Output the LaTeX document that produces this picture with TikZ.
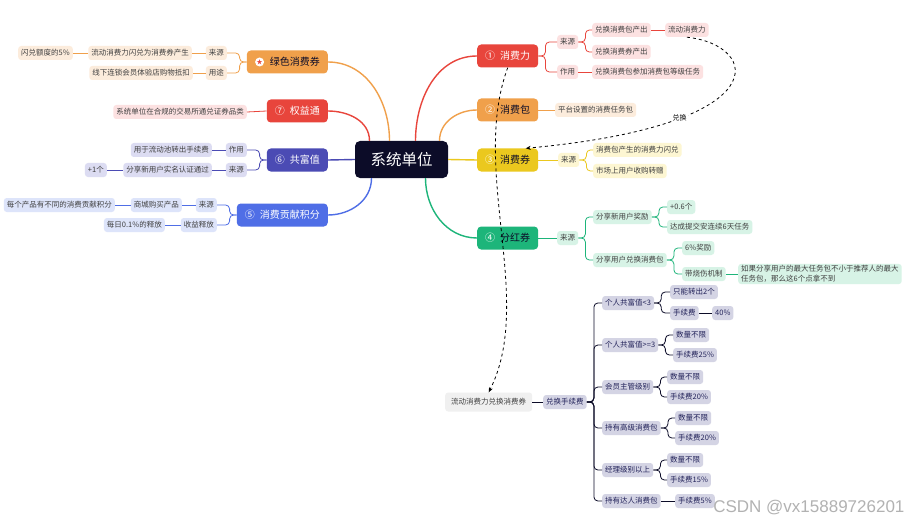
\documentclass[tikz,border=0pt]{standalone}
\usepackage{fontspec}
\setmainfont{Noto Sans CJK SC}
\newfontfamily\markfont{Liberation Sans}
\usepackage{tikz}
\usetikzlibrary{calc,arrows.meta}
\usepackage{xcolor}
\definecolor{ink}{RGB}{12,12,40}
\definecolor{navy}{RGB}{35,35,90}
\definecolor{redtopic}{RGB}{232,69,60}
\definecolor{redsoft}{RGB}{252,225,225}
\definecolor{orangetopic}{RGB}{240,160,75}
\definecolor{orangesoft}{RGB}{252,236,220}
\definecolor{yellowtopic}{RGB}{235,200,30}
\definecolor{yellowsoft}{RGB}{253,246,210}
\definecolor{greentopic}{RGB}{29,181,122}
\definecolor{greensoft}{RGB}{215,243,230}
\definecolor{indigotopic}{RGB}{75,75,180}
\definecolor{indigosoft}{RGB}{220,220,242}
\definecolor{bluetopic}{RGB}{79,110,230}
\definecolor{bluesoft}{RGB}{221,228,250}
\definecolor{greysoft}{RGB}{212,212,228}

\tikzset{
  topic/.style={rounded corners=4pt, inner xsep=8pt, inner ysep=0pt,
    minimum height=23pt, text=white, font=\fontsize{10}{12}\selectfont},
  leaf/.style={rounded corners=3pt, inner xsep=3pt, inner ysep=1.5pt,
    minimum height=14pt, text=black!75, font=\fontsize{7.5}{9}\selectfont},
  redleaf/.style={leaf, fill=redsoft},
  orangeleaf/.style={leaf, fill=orangesoft},
  yellowleaf/.style={leaf, fill=yellowsoft},
  greenleaf/.style={leaf, fill=greensoft},
  indigoleaf/.style={leaf, fill=indigosoft},
  blueleaf/.style={leaf, fill=bluesoft},
  greyleaf/.style={leaf, fill=greysoft, text=navy},
  trunk/.style={line width=1.4pt},
  twig/.style={line width=0.8pt, rounded corners=4pt},
  hint/.style={dashed, line width=0.8pt, -{Stealth[length=5pt,width=4pt]}},
}
\newcommand\numgap{\hspace{5pt}}

\begin{document}
\begin{tikzpicture}[x=1pt,y=-1pt]
\fill[white] (0,0) rectangle (913,524);
\useasboundingbox (0,0) rectangle (913,524);

% centre
\node[fill=ink, rounded corners=5pt, text=white, minimum width=93pt, minimum height=37pt,
      font=\fontsize{15.5}{18}\selectfont] (sys) at (401.5,159.5) {系统单位};

% right topics
\node[topic, fill=redtopic, anchor=west] (c1) at (477,56) {①\numgap 消费力};
\node[topic, fill=orangetopic, text=ink, anchor=west] (c2) at (477,110) {\textcolor{white}{②}\numgap 消费包};
\node[topic, fill=yellowtopic, text=ink, anchor=west] (c3) at (477,160) {\textcolor{white}{③}\numgap 消费券};
\node[topic, fill=greentopic, text=ink, anchor=west] (c4) at (477,238) {\textcolor{white}{④}\numgap 分红券};

% left topics
\node[topic, fill=orangetopic, text=ink, anchor=east] (g) at (328,62) {\phantom{①}\numgap 绿色消费券};
\node[circle, fill=white, inner sep=0pt, minimum size=9pt, text=redtopic,
      font=\fontsize{6}{6}\selectfont] (gicon) at ($(g.west)+(13,0)$) {★};
\node[topic, fill=redtopic, anchor=east] (q) at (328,111) {⑦\numgap 权益通};
\node[topic, fill=indigotopic, anchor=east] (f) at (328,160) {⑥\numgap 共富值};
\node[topic, fill=bluetopic, anchor=east] (p) at (328,215) {⑤\numgap 消费贡献积分};

% main branches
\draw[trunk, redtopic] ($(sys.north)+(14,0)$) to[out=90,in=180] (c1.west);
\draw[trunk, orangetopic] ($(sys.north)+(38,0)$) to[out=90,in=180] (c2.west);
\draw[trunk, yellowtopic] (sys.east) -- (c3.west);
\draw[trunk, greentopic] ($(sys.south)+(24,0)$) to[out=-90,in=180] (c4.west);
\draw[trunk, orangetopic] ($(sys.north)+(-12,0)$) to[out=90,in=0] (g.east);
\draw[trunk, redtopic] ($(sys.north)+(-32,0)$) to[out=90,in=0] (q.east);
\draw[trunk, indigotopic] (sys.west) -- (f.east);
\draw[trunk, bluetopic] ($(sys.south)+(-30,0)$) to[out=-90,in=0] (p.east);

% 消费力
\node[redleaf, anchor=west] (c1a) at (557,42) {来源};
\node[redleaf, anchor=west] (c1aa) at (592,30) {兑换消费包产出};
\node[redleaf, anchor=west] (c1aaa) at (665,30) {流动消费力};
\node[redleaf, anchor=west] (c1ab) at (592,52) {兑换消费券产出};
\node[redleaf, anchor=west] (c1b) at (557,72) {作用};
\node[redleaf, anchor=west] (c1ba) at (592,72) {兑换消费包参加消费包等级任务};
\foreach \a/\b in {c1/c1a, c1/c1b, c1a/c1aa, c1a/c1ab}
  \draw[twig, redtopic] (\a.east) -- ++(7,0) |- (\b.west);
\foreach \a/\b in {c1aa/c1aaa, c1b/c1ba}
  \draw[twig, redtopic] (\a.east) -- (\b.west);

% 消费包
\node[orangeleaf, anchor=west] (c2a) at (555,110) {平台设置的消费任务包};
\draw[twig, orangetopic] (c2.east) -- (c2a.west);

% 消费券
\node[yellowleaf, anchor=west] (c3a) at (558,160) {来源};
\node[yellowleaf, anchor=west] (c3aa) at (593,150) {消费包产生的消费力闪兑};
\node[yellowleaf, anchor=west] (c3ab) at (593,171) {市场上用户收购转赠};
\draw[twig, yellowtopic] (c3.east) -- (c3a.west);
\foreach \a/\b in {c3a/c3aa, c3a/c3ab}
  \draw[twig, yellowtopic] (\a.east) -- ++(7,0) |- (\b.west);

% 分红券
\node[greenleaf, anchor=west] (c4a) at (557,238) {来源};
\node[greenleaf, anchor=west] (c4aa) at (593,217) {分享新用户奖励};
\node[greenleaf, anchor=west] (c4aaa) at (667,207) {+0.6个};
\node[greenleaf, anchor=west] (c4aab) at (667,227) {达成提交安连续6天任务};
\node[greenleaf, anchor=west] (c4ab) at (593,260) {分享用户兑换消费包};
\node[greenleaf, anchor=west] (c4aba) at (682,248) {6\%奖励};
\node[greenleaf, anchor=west] (c4abb) at (682,274) {带烧伤机制};
\node[greenleaf, anchor=west, align=left, font=\fontsize{7.5}{10}\selectfont] (c4abba) at (738,274)
  {如果分享用户的最大任务包不小于推荐人的最大\\任务包，那么这6个点拿不到};
\draw[twig, greentopic] (c4.east) -- (c4a.west);
\foreach \a/\b in {c4a/c4aa, c4a/c4ab, c4aa/c4aaa, c4aa/c4aab, c4ab/c4aba, c4ab/c4abb}
  \draw[twig, greentopic] (\a.east) -- ++(7,0) |- (\b.west);
\draw[twig, greentopic] (c4abb.east) -- (c4abba.west);

% 绿色消费券
\node[orangeleaf, anchor=east] (ga) at (227,53) {来源};
\node[orangeleaf, anchor=east] (gaa) at (192,53) {流动消费力闪兑为消费券产生};
\node[orangeleaf, anchor=east] (gaaa) at (73,53) {闪兑额度的5\%};
\node[orangeleaf, anchor=east] (gb) at (227,73) {用途};
\node[orangeleaf, anchor=east] (gba) at (193,73) {线下连锁会员体验店购物抵扣};
\foreach \a/\b in {g/ga, g/gb}
  \draw[twig, orangetopic] (\a.west) -- ++(-7,0) |- (\b.east);
\foreach \a/\b in {ga/gaa, gaa/gaaa, gb/gba}
  \draw[twig, orangetopic] (\a.west) -- (\b.east);

% 权益通
\node[redleaf, anchor=east] (qa) at (247,112) {系统单位在合规的交易所通兑证券品类};
\draw[twig, redtopic] (q.west) -- (qa.east);

% 共富值
\node[indigoleaf, anchor=east] (fa) at (247,150) {作用};
\node[indigoleaf, anchor=east] (faa) at (212,150) {用于流动池转出手续费};
\node[indigoleaf, anchor=east] (fb) at (247,170) {来源};
\node[indigoleaf, anchor=east] (fba) at (212,170) {分享新用户实名认证通过};
\node[indigoleaf, anchor=east] (fbaa) at (107,170) {+1个};
\foreach \a/\b in {f/fa, f/fb}
  \draw[twig, indigotopic] (\a.west) -- ++(-7,0) |- (\b.east);
\foreach \a/\b in {fa/faa, fb/fba, fba/fbaa}
  \draw[twig, indigotopic] (\a.west) -- (\b.east);

% 消费贡献积分
\node[blueleaf, anchor=east] (pa) at (217,205) {来源};
\node[blueleaf, anchor=east] (paa) at (182,205) {商城购买产品};
\node[blueleaf, anchor=east] (paaa) at (115,205) {每个产品有不同的消费贡献积分};
\node[blueleaf, anchor=east] (pb) at (217,225) {收益释放};
\node[blueleaf, anchor=east] (pba) at (165,225) {每日0.1\%的释放};
\foreach \a/\b in {p/pa, p/pb}
  \draw[twig, bluetopic] (\a.west) -- ++(-7,0) |- (\b.east);
\foreach \a/\b in {pa/paa, paa/paaa, pb/pba}
  \draw[twig, bluetopic] (\a.west) -- (\b.east);

% 兑换手续费
\node[leaf, fill=black!6, inner xsep=6pt, minimum height=19pt, anchor=west] (swap) at (445,402) {流动消费力兑换消费券};
\node[greyleaf, anchor=west] (fee) at (543,402) {兑换手续费};
\node[greyleaf, anchor=west] (r1) at (602,303) {个人共富值<3};
\node[greyleaf, anchor=west] (r1a) at (670,292) {只能转出2个};
\node[greyleaf, anchor=west] (r1b) at (670,313) {手续费};
\node[greyleaf, anchor=west] (r1ba) at (712,313) {40\%};
\node[greyleaf, anchor=west] (r2) at (602,345) {个人共富值>=3};
\node[greyleaf, anchor=west] (r2a) at (673,335) {数量不限};
\node[greyleaf, anchor=west] (r2b) at (673,355) {手续费25\%};
\node[greyleaf, anchor=west] (r3) at (602,387) {会员主管级别};
\node[greyleaf, anchor=west] (r3a) at (667,377) {数量不限};
\node[greyleaf, anchor=west] (r3b) at (667,397) {手续费20\%};
\node[greyleaf, anchor=west] (r4) at (602,428) {持有高级消费包};
\node[greyleaf, anchor=west] (r4a) at (675,418) {数量不限};
\node[greyleaf, anchor=west] (r4b) at (675,438) {手续费20\%};
\node[greyleaf, anchor=west] (r5) at (602,470) {经理级别以上};
\node[greyleaf, anchor=west] (r5a) at (667,460) {数量不限};
\node[greyleaf, anchor=west] (r5b) at (667,480) {手续费15\%};
\node[greyleaf, anchor=west] (r6) at (602,501) {持有达人消费包};
\node[greyleaf, anchor=west] (r6a) at (675,501) {手续费5\%};
\draw[twig, ink] (swap.east) -- (fee.west);
\foreach \a/\b in {fee/r1, fee/r2, fee/r3, fee/r4, fee/r5, fee/r6,
                   r1/r1a, r1/r1b, r2/r2a, r2/r2b, r3/r3a, r3/r3b,
                   r4/r4a, r4/r4b, r5/r5a, r5/r5b}
  \draw[twig, ink] (\a.east) -- ++(7,0) |- (\b.west);
\foreach \a/\b in {r1b/r1ba, r6/r6a}
  \draw[twig, ink] (\a.east) -- (\b.west);

% dashed hints
\draw[hint] (c1aaa.south) .. controls (760,45) and (780,125) .. ($(c3.north)+(18,0)$)
  node[pos=0.72, fill=white, inner sep=1pt, font=\fontsize{7}{8}\selectfont] (swaptag) {兑换};
\draw[hint] (c1.south) .. controls (470,170) and (535,300) .. (swap.north);

% watermark
\node[anchor=east, text=black!30, font=\markfont\fontsize{17}{20}\selectfont] (mark) at (908,508) {CSDN @vx15889726201};
\end{tikzpicture}
\end{document}
